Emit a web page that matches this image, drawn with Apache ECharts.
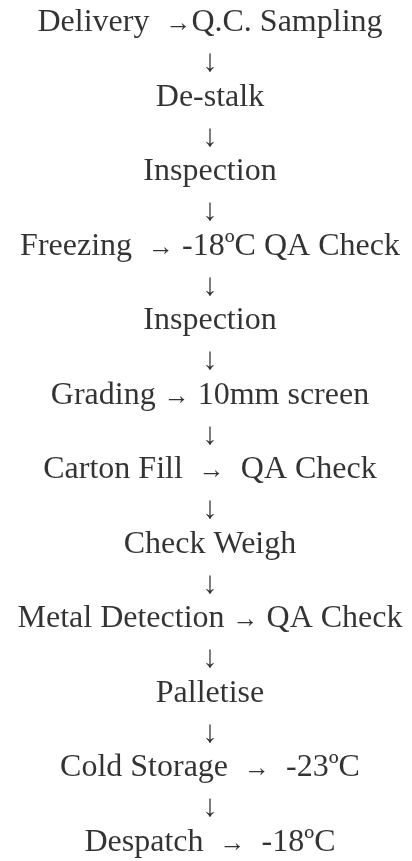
<!DOCTYPE html>
<html>
<head>
<meta charset="utf-8">
<script src="https://cdn.jsdelivr.net/npm/echarts@6/dist/echarts.min.js"></script>
<style>
html,body{margin:0;padding:0;background:#fff;}
#chart{width:412px;height:861px;}
</style>
</head>
<body>
<div id="chart"></div>
<script>
// Flow steps (top to bottom)
const steps = ['Delivery', 'De-stalk', 'Inspection', 'Freezing', 'Inspection', 'Grading',
  'Carton Fill', 'Check Weigh', 'Metal Detection', 'Palletise', 'Cold Storage', 'Despatch'];
// Side checks shown after a right arrow ('' = none)
const sideChecks = ['Q.C. Sampling', '', '', '-18ºC QA Check', '', '10mm screen',
  'QA Check', '', 'QA Check', '', '-23ºC', '-18ºC'];
// Spacing before / after the right arrow
const gapBefore = ['  ', '', '', '  ', '', ' ', '  ', '', ' ', '', '  ', '  '];
const gapAfter  = ['', '', '', ' ', '', ' ', '  ', '', ' ', '', '  ', '  '];

const rowData = steps.map((s, i) => [0, i]);
const downData = steps.slice(0, -1).map((s, i) => [0, i + 0.54]);

const chart = echarts.init(document.getElementById('chart'), null, {renderer: 'canvas'});
const serif = '"Liberation Serif", "Times New Roman", serif';
chart.setOption({
  animation: false,
  backgroundColor: '#fff',
  grid: {left: 8, right: 0, top: 23, bottom: 18.5},
  xAxis: {type: 'value', min: -1, max: 1, show: false},
  yAxis: {type: 'value', min: 0, max: steps.length - 1, inverse: true, show: false},
  series: [
    {
      type: 'scatter',
      symbolSize: 1,
      itemStyle: {color: 'rgba(0,0,0,0)'},
      data: rowData,
      label: {
        show: true,
        position: 'inside',
        align: 'center',
        verticalAlign: 'middle',
        formatter: p => {
          const i = p.dataIndex;
          if (!sideChecks[i]) return '{m|' + steps[i] + '}';
          return '{m|' + steps[i] + gapBefore[i] + '}{a|→}{m|' + gapAfter[i] + sideChecks[i] + '}';
        },
        rich: {
          m: {fontFamily: serif, fontSize: 32, color: '#000'},
          a: {fontFamily: serif, fontSize: 26, color: '#000', padding: [3, 0, 0, 0]}
        }
      }
    },
    {
      type: 'scatter',
      symbolSize: 1,
      itemStyle: {color: 'rgba(0,0,0,0)'},
      data: downData,
      label: {
        show: true,
        position: 'inside',
        align: 'center',
        verticalAlign: 'middle',
        formatter: '↓',
        fontFamily: serif,
        fontSize: 31,
        color: '#000'
      }
    }
  ]
});
</script>
</body>
</html>
